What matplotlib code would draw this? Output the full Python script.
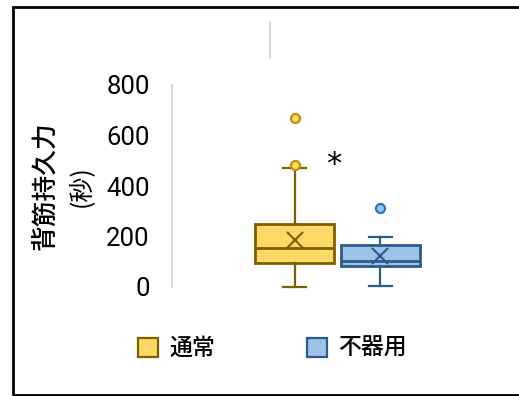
import numpy as np
import matplotlib
matplotlib.use("Agg")
import matplotlib.pyplot as plt
from matplotlib.patches import Rectangle
from matplotlib.lines import Line2D

plt.rcParams["font.family"] = ["Roboto", "Noto Sans CJK JP", "DejaVu Sans"]

# summary stats per group (seconds)
groups = ["通常", "不器用"]
q1 = [94, 84]
med = [156, 102]
q3 = [250, 166]
wlo = [0, 5]
whi = [470, 197]
means = [186, 124]
fliers = [[484, 669], [312]]
star_y = 487

fill = ["#FFD966", "#9DC3E6"]
edge = ["#7F6000", "#2E5C8A"]
flier_edge = ["#BF9000", "#2E75B6"]

W, H = 519, 396
fig = plt.figure(figsize=(W / 100, H / 100), dpi=100)
ax = fig.add_axes([172 / W, 1 - 287 / H, 332 / W, 202 / H])

pos = [0.3696, 0.6274]
stats = [dict(q1=q1[i], med=med[i], q3=q3[i], whislo=wlo[i], whishi=whi[i],
              mean=means[i], fliers=fliers[i]) for i in range(2)]
for i in range(2):
    bp = ax.bxp([stats[i]], positions=[pos[i]], widths=0.237, patch_artist=True,
                showmeans=True, capwidths=[0.068],
                boxprops=dict(facecolor=fill[i], edgecolor=edge[i], linewidth=2),
                medianprops=dict(color=edge[i], linewidth=2),
                whiskerprops=dict(color=edge[i], linewidth=1.6),
                capprops=dict(color=edge[i], linewidth=1.6),
                meanprops=dict(marker="x", markersize=11, markeredgewidth=1.5,
                               markeredgecolor=edge[i]),
                flierprops=dict(marker="o", markersize=6.5, markerfacecolor=fill[i],
                                markeredgecolor=flier_edge[i], markeredgewidth=1.6))
    for art in sum(bp.values(), []):
        art.set_clip_on(False)

ax.text(0.487, star_y, "*", ha="center", va="center", fontsize=22, color="black",
        family=["DejaVu Sans"])

ax.set_xlim(0, 1)
ax.set_ylim(0, 800)
ax.set_yticks([0, 200, 400, 600, 800])
ax.tick_params(axis="y", length=0, pad=16, labelsize=18.5)
ax.set_xticks([])
for s in ["top", "right", "bottom"]:
    ax.spines[s].set_visible(False)
ax.spines["left"].set_color("#D9D9D9")
ax.spines["left"].set_linewidth(1.5)

# y-axis title in two lines
fig.text(45 / W, 1 - 186 / H, "背筋持久力", rotation=90, ha="center", va="center",
         fontsize=18.5, fontweight="medium", family=["Noto Sans CJK JP"])
fig.text(81 / W, 1 - 186 / H, "(秒)", rotation=90, ha="center", va="center",
         fontsize=18, family=["Noto Sans CJK JP"])

# faint leftover line above the plot
fig.add_artist(Line2D([270 / W, 270 / W], [1 - 22 / H, 1 - 58 / H], color="#D9D9D9", lw=1.5))

# legend
for i, (x0, xt) in enumerate([(138, 169), (307, 338)]):
    fig.add_artist(Rectangle((x0 / W, 1 - 357 / H), 20 / W, 19 / H, facecolor=fill[i],
                             edgecolor=edge[i], lw=1.6))
    fig.text(xt / W, 1 - 348 / H, groups[i], ha="left", va="center", fontsize=16.5,
             fontweight="medium", family=["Noto Sans CJK JP"])

# outer frame
fig.add_artist(Rectangle((12.5 / W, 1 - 395 / H), 520 / W, 388 / H, fill=False,
                         edgecolor="black", lw=2))

fig.savefig("out.png", dpi=100)
